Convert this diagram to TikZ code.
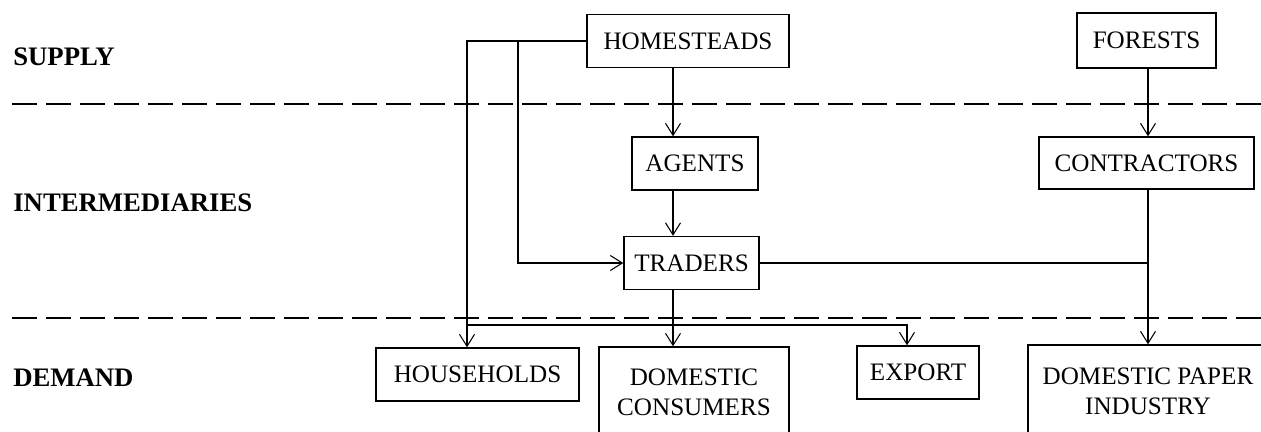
\documentclass[tikz,border=0pt]{standalone}
\usepackage{fontspec}
\setmainfont{Liberation Serif}
\usetikzlibrary{arrows.meta}

\begin{document}
\begin{tikzpicture}[x=0.02cm,y=-0.02cm,
	font=\fontsize{14.3}{17}\selectfont,
	box/.style={draw,line width=0.8pt,inner sep=0pt,align=center,minimum height=1.06cm},
	arr/.style={line width=0.6pt,-{Straight Barb[length=0.24cm,width=0.3cm]}},
	sep/.style={line width=1.7pt,dash pattern=on 0.5cm off 0.18cm},
	lbl/.style={anchor=west,inner sep=0pt,font=\fontsize{15.2}{18}\selectfont\bfseries}]
	\useasboundingbox (0,0) rectangle (1261,432);
	% levels
	\draw[sep] (12,104)--(1261,104);
	\draw[sep] (12,318)--(1261,318);
	\node[lbl] (supply) at (13,57) {SUPPLY};
	\node[lbl] (inter) at (13,203) {INTERMEDIARIES};
	\node[lbl] (demand) at (13,378) {DEMAND};
	% boxes
	\node[box,minimum width=4.04cm] (hom) at (688,41) {HOMESTEADS};
	\node[box,minimum width=2.78cm,minimum height=1.1cm] (for) at (1146.5,40.5) {FORESTS};
	\node[box,minimum width=2.52cm] (ag) at (695,163.5) {AGENTS};
	\node[box,minimum width=4.3cm,minimum height=1.04cm] (con) at (1146.5,163) {CONTRACTORS};
	\node[box,minimum width=2.7cm] (tra) at (691.5,263) {TRADERS};
	\node[box,minimum width=4.06cm] (hh) at (477.5,374.5) {HOUSEHOLDS};
	\node[box,minimum width=3.8cm,minimum height=1.8cm] (dc) at (694,392) {DOMESTIC\\CONSUMERS};
	\node[box,minimum width=2.44cm] (ex) at (918,372.5) {EXPORT};
	\node[box,minimum width=4.8cm,minimum height=1.84cm] (dpi) at (1148,391) {DOMESTIC PAPER\\INDUSTRY};
	% columns of the flows
	\coordinate (lft) at (467,0);
	\coordinate (brn) at (518,0);
	\coordinate (mid) at (673,0);
	\coordinate (exp) at (907,0);
	\coordinate (rgt) at (1148,0);
	\coordinate (split) at (673,325);
	% flows
	\draw[arr] (hom.west) -| (hh.north -| lft);
	\draw[arr] (hom.west -| brn) |- (tra.west);
	\draw[arr] (hom.south -| mid) -- (ag.north -| mid);
	\draw[arr] (ag.south -| mid) -- (tra.north -| mid);
	\draw[arr] (tra.south -| mid) -- (dc.north -| mid);
	\draw[arr] (split -| lft) -| (ex.north -| exp);
	\draw[arr] (for.south -| rgt) -- (con.north -| rgt);
	\draw[arr] (con.south -| rgt) -- (dpi.north -| rgt);
	\draw[line width=0.6pt] (tra.east) -- (tra.east -| rgt);
\end{tikzpicture}
\end{document}
